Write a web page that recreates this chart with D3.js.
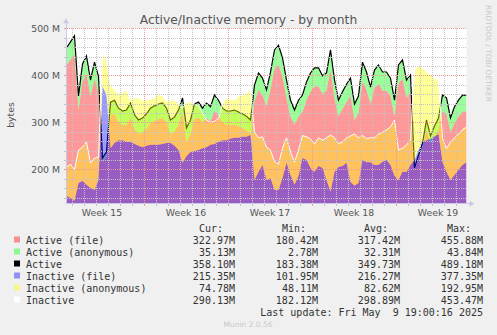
<!DOCTYPE html>
<html><head><meta charset="utf-8">
<script src="https://cdn.jsdelivr.net/npm/d3@7"></script>
<style>
html,body{margin:0;padding:0;background:#f0f0f0;}
svg{display:block;}
</style></head><body>
<svg id="c" width="497" height="335"></svg>
<script>
// ---- data (values in M bytes), one sample every 8 hours ----
const startTime = Date.UTC(2025, 3, 7, 13);
const stepHours = 8;
const activeFile = [422,433,444,326,388,403,356,392,364,216,
  227,315,317,300,294,294,309,286,275,279,
  286,298,303,307,309,300,275,281,294,320,
  258,275,307,311,300,309,303,324,315,300,
  294,294,296,292,288,283,275,345,369,358,
  335,369,414,422,397,352,313,294,313,322,
  348,365,376,376,361,367,412,352,313,329,
  343,356,305,320,388,369,339,373,382,367,
  367,356,313,382,393,352,363,198,225,248,
  285,256,272,284,324,317,279,298,312,323,
  323];
const activeAnon = [36,38,40,30,36,38,34,36,34,8,
  10,28,30,30,30,32,32,30,30,30,
  32,32,32,32,32,30,30,30,32,32,
  30,30,32,32,30,32,30,34,32,30,
  30,30,30,30,30,30,30,34,36,36,
  34,38,40,42,40,38,34,32,34,36,
  38,40,40,40,38,38,42,38,34,36,
  38,38,34,36,40,38,36,38,40,40,
  40,38,34,40,40,38,38,5,5,8,
  20,15,20,25,34,35,30,35,35,35,
  35];
const inactiveFile = [143,139,133,171,175,167,160,156,177,377,
  358,245,256,262,262,258,258,254,250,247,
  250,252,252,252,254,256,256,250,241,214,
  228,237,239,241,245,247,252,254,258,262,
  262,265,267,267,269,269,273,177,194,209,
  177,181,156,156,181,214,188,167,186,224,
  220,203,194,207,203,177,152,194,205,207,
  214,173,165,171,220,215,215,209,209,216,
  220,209,186,177,195,194,209,220,241,258,
  262,265,270,275,215,194,177,188,199,209,
  215];
const inactiveAnon = [62,72,66,70,72,91,53,68,48,73,
  75,134,113,98,102,111,89,98,102,100,
  97,97,100,108,102,89,91,97,98,116,
  115,106,100,94,75,58,48,48,50,78,
  90,84,80,89,89,93,96,102,73,60,
  70,60,60,55,64,53,49,48,55,48,
  49,62,60,60,59,90,121,73,50,51,
  53,98,110,96,52,50,52,58,66,63,
  64,81,119,64,50,58,53,191,179,158,
  145,136,124,115,50,50,81,79,76,75,
  75];
const yTickValues = [200, 300, 400, 500];
const legendNames = ["Active (file)", "Active (anonymous)", "Active", "Inactive (file)", "Inactive (anonymous)", "Inactive"];
const legendCur = ["322.97M", "35.13M", "358.10M", "215.35M", "74.78M", "290.13M"];
const legendMin = ["180.42M", "2.78M", "183.38M", "101.95M", "48.11M", "182.12M"];
const legendAvg = ["317.42M", "32.31M", "349.73M", "216.27M", "82.62M", "298.89M"];
const legendMax = ["455.88M", "43.84M", "489.18M", "377.35M", "192.95M", "453.47M"];
const titleText = "Active/Inactive memory - by month";
const lastUpdate = "Last update: Fri May  9 19:00:16 2025";

// ---- setup ----
const svg = d3.select('#c');
const P = {left: 66.5, right: 466.5, top: 28.3, bottom: 203.3};
const x = d3.scaleUtc()
  .domain([new Date(startTime), new Date(startTime + 400 / 12 * 864e5)])
  .range([P.left, P.right]);
const y = d3.scaleLinear().domain([127.66, 500]).range([P.bottom, P.top]);

const rows = activeFile.map((v, i) => ({
  t: new Date(startTime + i * stepHours * 3600e3),
  af: v, aa: activeAnon[i], inf: inactiveFile[i], ia: inactiveAnon[i]
}));

svg.append('rect').attr('x', P.left).attr('y', P.top)
  .attr('width', P.right - P.left).attr('height', P.bottom - P.top).attr('fill', '#fff');

svg.append('clipPath').attr('id', 'clip').append('rect')
  .attr('x', P.left).attr('y', P.top).attr('width', P.right - P.left).attr('height', P.bottom - P.top);
const g = svg.append('g').attr('clip-path', 'url(#clip)');

const bottomV = y.domain()[0];
const area = (lo, hi) => d3.area().x(d => x(d.t)).y0(d => y(lo(d))).y1(d => y(hi(d)));
const line = f => d3.line().x(d => x(d.t)).y(d => y(f(d)));

g.append('path').datum(rows).attr('d', area(d => bottomV, d => d.af)).attr('fill', '#ff0000').attr('fill-opacity', 0.4);
g.append('path').datum(rows).attr('d', area(d => d.af, d => d.af + d.aa)).attr('fill', '#00ff00').attr('fill-opacity', 0.4);
g.append('path').datum(rows).attr('d', line(d => d.af + d.aa)).attr('fill', 'none').attr('stroke', '#000').attr('stroke-width', 1.2);
g.append('path').datum(rows).attr('d', area(d => bottomV, d => d.inf)).attr('fill', '#0000ff').attr('fill-opacity', 0.4);
g.append('path').datum(rows).attr('d', area(d => d.inf, d => d.inf + d.ia)).attr('fill', '#ffff00').attr('fill-opacity', 0.4);
g.append('path').datum(rows).attr('d', line(d => d.inf + d.ia)).attr('fill', 'none').attr('stroke', '#fff').attr('stroke-width', 1);

// ---- grid ----
const grid = svg.append('g').attr('shape-rendering', 'crispEdges');
const minorY = d3.range(140, 500, 20).filter(v => v % 100 !== 0);
grid.selectAll('.hy').data(minorY).join('line')
  .attr('x1', P.left).attr('x2', P.right).attr('y1', d => Math.round(y(d)) + 0.5).attr('y2', d => Math.round(y(d)) + 0.5)
  .attr('stroke', '#c4c4c4').attr('stroke-dasharray', '1,1');
const days = d3.utcDay.range(x.domain()[0], x.domain()[1]);
const mondays = d3.utcMonday.range(x.domain()[0], x.domain()[1]);
grid.selectAll('.vx').data(days.filter(d => d.getUTCDay() !== 1)).join('line')
  .attr('x1', d => Math.round(x(d)) + 0.5).attr('x2', d => Math.round(x(d)) + 0.5).attr('y1', P.top).attr('y2', P.bottom)
  .attr('stroke', '#c4c4c4').attr('stroke-dasharray', '1,1');
grid.selectAll('.my').data(yTickValues).join('line')
  .attr('x1', P.left).attr('x2', P.right).attr('y1', d => Math.round(y(d)) + 0.5).attr('y2', d => Math.round(y(d)) + 0.5)
  .attr('stroke', '#eb9a9a').attr('stroke-dasharray', '1,1');
grid.selectAll('.mx').data(mondays).join('line')
  .attr('x1', d => Math.round(x(d)) + 0.5).attr('x2', d => Math.round(x(d)) + 0.5).attr('y1', P.top).attr('y2', P.bottom)
  .attr('stroke', '#eb9a9a').attr('stroke-dasharray', '1,1');

// ---- axes ----
const axisCol = '#c8c8e6';
const ax = svg.append('g').attr('shape-rendering', 'crispEdges');
ax.append('line').attr('x1', P.left - 0.5).attr('x2', P.right + 3).attr('y1', P.bottom + 0.5).attr('y2', P.bottom + 0.5).attr('stroke', axisCol);
ax.append('line').attr('x1', P.left - 0.5).attr('x2', P.left - 0.5).attr('y1', P.bottom + 0.5).attr('y2', P.top - 5).attr('stroke', axisCol);
svg.append('path').attr('d', `M${P.right + 3},${P.bottom - 2.5}L${P.right + 8},${P.bottom + 0.5}L${P.right + 3},${P.bottom + 3.5}Z`).attr('fill', axisCol);
svg.append('path').attr('d', `M${P.left - 3.5},${P.top - 5}L${P.left - 0.5},${P.top - 10}L${P.left + 2.5},${P.top - 5}Z`).attr('fill', axisCol);
ax.selectAll('.tx').data(days).join('line')
  .attr('x1', d => Math.round(x(d)) + 0.5).attr('x2', d => Math.round(x(d)) + 0.5).attr('y1', P.bottom + 1).attr('y2', P.bottom + 3)
  .attr('stroke', d => d.getUTCDay() === 1 ? '#eb9a9a' : '#c4c4c4');
ax.selectAll('.ty').data(d3.range(140, 501, 20)).join('line')
  .attr('x1', P.left - 3).attr('x2', P.left - 1).attr('y1', d => Math.round(y(d)) + 0.5).attr('y2', d => Math.round(y(d)) + 0.5)
  .attr('stroke', d => d % 100 === 0 ? '#eb9a9a' : '#c4c4c4');

const axFont = 'DejaVu Sans, sans-serif';
svg.selectAll('.yl').data(yTickValues).join('text')
  .attr('x', 60).attr('y', d => y(d) + 3.5).attr('text-anchor', 'end')
  .attr('font-family', axFont).attr('font-size', 9.3).attr('fill', '#555')
  .text(d => `${d} M`);
const fmtWeek = d3.utcFormat('%V');
svg.selectAll('.xl').data(mondays.concat([d3.utcMonday.floor(x.domain()[0])]).map(m => d3.utcHour.offset(m, 84))
    .filter(c => x(c) > P.left + 20 && x(c) < P.right))
  .join('text')
  .attr('x', d => x(d)).attr('y', 215.5).attr('text-anchor', 'middle')
  .attr('font-family', axFont).attr('font-size', 9.3).attr('fill', '#555')
  .text(d => `Week ${+fmtWeek(d)}`);

svg.append('text').attr('x', 248.5).attr('y', 23.5).attr('text-anchor', 'middle')
  .attr('font-family', axFont).attr('font-size', 12.3).attr('fill', '#555').text(titleText);
svg.append('text').attr('transform', 'translate(14,115) rotate(-90)').attr('text-anchor', 'middle')
  .attr('font-family', axFont).attr('font-size', 9.3).attr('fill', '#555').text('bytes');
svg.append('text').attr('transform', 'translate(486,5) rotate(90)').attr('text-anchor', 'start')
  .attr('font-family', axFont).attr('font-size', 7.3).attr('fill', '#c8c8c8')
  .attr('textLength', 97).attr('lengthAdjust', 'spacingAndGlyphs').text('RRDTOOL / TOBI OETIKER');

// ---- legend ----
const mono = 'DejaVu Sans Mono, monospace';
const legCol = '#333';
const colEnds = [235, 318, 400, 483];
const headers = ['Cur:', 'Min:', 'Avg:', 'Max:'];
const L = svg.append('g').attr('font-family', mono).attr('font-size', 10).attr('fill', legCol);
headers.forEach((h, k) => L.append('text').attr('x', colEnds[k] - 12).attr('y', 231.5).attr('text-anchor', 'end').text(h));
const swatch = [
  {c: '#ff0000', o: 0.4}, {c: '#00ff00', o: 0.4}, {c: '#000000', o: 1},
  {c: '#0000ff', o: 0.4}, {c: '#ffff00', o: 0.4}, {c: '#ffffff', o: 1}];
legendNames.forEach((n, i) => {
  const yy = 243.5 + i * 12;
  L.append('rect').attr('x', 14).attr('y', yy - 7).attr('width', 6).attr('height', 6)
    .attr('fill', swatch[i].c).attr('fill-opacity', swatch[i].o);
  L.append('text').attr('x', 26).attr('y', yy).text(n);
  [legendCur, legendMin, legendAvg, legendMax].forEach((arr, k) =>
    L.append('text').attr('x', colEnds[k]).attr('y', yy).attr('text-anchor', 'end').text(arr[i]));
});
L.append('text').attr('x', 483).attr('y', 315.5).attr('text-anchor', 'end').style('white-space', 'pre').text(lastUpdate);
svg.append('text').attr('x', 248).attr('y', 327).attr('text-anchor', 'middle')
  .attr('font-family', axFont).attr('font-size', 7.5).attr('fill', '#c8c8c8').text('Munin 2.0.56');
</script>
</body></html>
